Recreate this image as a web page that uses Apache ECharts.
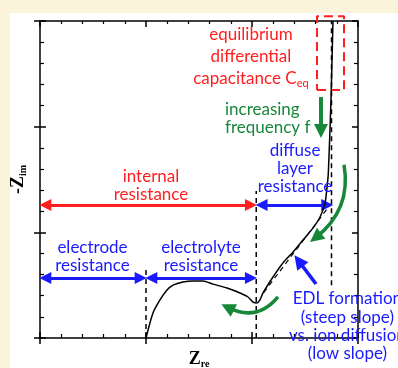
<!DOCTYPE html>
<html>
<head>
<meta charset="utf-8">
<script src="https://cdn.jsdelivr.net/npm/echarts@6/dist/echarts.min.js"></script>
<style>
  html, body { margin: 0; padding: 0; }
  #wrap { position: relative; width: 398px; height: 368px; background: #fdf4dc; overflow: hidden; }
  #panel { position: absolute; left: 10px; top: 13px; right: 0; bottom: 0; background: #ffffff; }
  #chart { position: absolute; left: 0; top: 0; width: 398px; height: 368px; }
</style>
</head>
<body>
<div id="wrap"><div id="panel"></div><div id="chart"></div></div>
<script>
// Nyquist plot of an EDL capacitor: real part vs. negative imaginary part (arbitrary units)
const zRe = [1.00, 1.066, 1.132, 1.198, 1.255, 1.349, 1.443, 1.538, 1.632, 1.764, 1.887, 1.962, 2.009, 2.047,
             2.075, 2.104, 2.198, 2.292, 2.387, 2.481, 2.575, 2.642, 2.689, 2.708, 2.72, 2.745, 2.764];
const zIm = [0.00, 0.237, 0.36, 0.454, 0.50, 0.53, 0.54, 0.54, 0.51, 0.473, 0.426, 0.388, 0.34, 0.331,
             0.36, 0.426, 0.577, 0.71, 0.814, 0.927, 1.04, 1.145, 1.277, 1.43, 1.56, 2.25, 3.00];

// characteristic resistances along the real axis
const rElectrode = 1.00;          // end of electrode resistance
const rInternal = 2.04;           // electrode + electrolyte resistance
const rDiffuse = 2.75;            // internal + diffuse layer resistance

// straight-line fit of the diffusion branch
const fitRe = [2.11, 2.73];
const fitIm = [0.43, 1.25];

// region of equilibrium differential capacitance
const ceqRe = [2.613, 2.868];
const ceqIm = [2.346, 3.046];

// axis ranges
const axisMax = 3;

// annotation texts
const capText = ['equilibrium', 'differential', 'capacitance C{sub|eq}'];
const freqText = ['increasing', 'frequency f'];
const diffuseText = ['diffuse', 'layer', 'resistance'];
const internalText = ['internal', 'resistance'];
const electrodeText = ['electrode', 'resistance'];
const electrolyteText = ['electrolyte', 'resistance'];
const edlText = ['EDL formation', '(steep slope)', 'vs. ion diffusion', '(low slope)'];

const RED = '#ff1f1f', BLUE = '#1a1aff', GREEN = '#17873a', BLACK = '#000';
const FONT = 'Lato, "Noto Sans", sans-serif';

const notes = [
  { t: capText, x: 1.99, y: 2.66, c: RED, lh: 22, align: 'center' },
  { t: freqText, x: 1.745, y: 2.08, c: GREEN, lh: 18, align: 'left' },
  { t: diffuseText, x: 2.406, y: 1.60, c: BLUE, lh: 18, align: 'center' },
  { t: internalText, x: 1.047, y: 1.44, c: RED, lh: 18, align: 'center' },
  { t: electrodeText, x: 0.495, y: 0.77, c: BLUE, lh: 18, align: 'center' },
  { t: electrolyteText, x: 1.519, y: 0.77, c: BLUE, lh: 18, align: 'center' },
  { t: edlText, x: 2.90, y: 0.11, c: BLUE, lh: 18.3, align: 'center' }
];

const chart = echarts.init(document.getElementById('chart'), null, { renderer: 'canvas' });

function axisDef(pos, inside, showLine, majorLen, minorLen) {
  return {
    type: 'value', position: pos, min: 0, max: axisMax, interval: 1,
    axisLine: { show: showLine, onZero: false, lineStyle: { color: BLACK, width: 1.5 } },
    axisTick: { show: true, inside: inside, length: majorLen, lineStyle: { color: BLACK, width: 1.5 } },
    minorTick: { show: minorLen > 0, splitNumber: 5, length: minorLen, lineStyle: { color: BLACK, width: 1.2 } },
    axisLabel: { show: false }, splitLine: { show: false }
  };
}

const nameStyle = {
  color: BLACK, fontFamily: '"Liberation Serif", serif', fontWeight: 'bold', fontSize: 18,
  rich: { s: { fontFamily: '"Liberation Serif", serif', fontWeight: 'bold', fontSize: 10, padding: [10, 0, 0, 0] } }
};

const xAxes = [
  Object.assign(axisDef('bottom', true, true, 6, 4), {
    name: 'Z{s|re}', nameLocation: 'middle', nameGap: 11, nameTextStyle: nameStyle
  }),
  axisDef('bottom', false, false, 6, 0),
  axisDef('top', true, true, 6, 3)
];
const yAxes = [
  Object.assign(axisDef('left', true, true, 6, 4), {
    name: '-Z{s|im}', nameLocation: 'middle', nameGap: 12, nameRotate: 90, nameTextStyle: nameStyle
  }),
  axisDef('left', false, false, 6, 0),
  axisDef('right', true, true, 6, 4)
];

function dashed(points, color, width, dash) {
  return {
    type: 'line', data: points, symbol: 'none', clip: false, silent: true, z: 3,
    lineStyle: { color: color, width: width, type: dash }
  };
}

function arrows(list, color, width, size, ends, curve) {
  return {
    type: 'lines', coordinateSystem: 'cartesian2d', xAxisIndex: 0, yAxisIndex: 0, silent: true, z: 4,
    symbol: ends, symbolSize: size,
    lineStyle: { color: color, width: width, opacity: 1, curveness: curve || 0 },
    data: list.map(c => ({ coords: c }))
  };
}

const headX = 0.05;   // half arrowhead length in data units along x

const option = {
  animation: false,
  grid: { left: 40, right: 40, top: 21, bottom: 30, containLabel: false, outerBoundsMode: 'none' },
  xAxis: xAxes,
  yAxis: yAxes,
  series: [
    {
      type: 'line', data: zRe.map((v, i) => [v, zIm[i]]), symbol: 'none', smooth: 0.25, clip: false, z: 5,
      lineStyle: { color: BLACK, width: 1.5 }
    },
    dashed([[rElectrode, 0], [rElectrode, 0.65]], BLACK, 1.5, [5, 4]),
    dashed([[rInternal, 0], [rInternal, 1.39]], BLACK, 1.5, [5, 4]),
    dashed([[rDiffuse, 0.5], [rDiffuse, axisMax]], BLACK, 1.5, [5, 4]),
    dashed([[fitRe[0], fitIm[0]], [fitRe[1], fitIm[1]]], BLACK, 1.2, [5, 4]),
    dashed([[ceqRe[0], ceqIm[0]], [ceqRe[1], ceqIm[0]], [ceqRe[1], ceqIm[1]], [ceqRe[0], ceqIm[1]], [ceqRe[0], ceqIm[0]]],
      RED, 2, [9, 5]),
    arrows([[[0 + headX, 1.258], [rInternal - headX, 1.258]]], RED, 3, [12, 12], ['triangle', 'triangle']),
    arrows([[[rInternal + headX, 1.258], [rDiffuse - headX + 0.01, 1.258]],
            [[0 + headX, 0.568], [rElectrode - headX, 0.568]],
            [[rElectrode + headX, 0.568], [rInternal - headX, 0.568]]], BLUE, 3, [12, 12], ['triangle', 'triangle']),
    arrows([[[2.604, 0.511], [2.44, 0.73]]], BLUE, 3.5, [14, 14], ['none', 'triangle']),
    arrows([[[2.651, 2.28], [2.651, 1.96]]], GREEN, 4, [13, 14], ['none', 'triangle']),
    arrows([[[2.868, 1.64], [2.60, 0.95]]], GREEN, 3.5, [13, 14], ['none', 'triangle'], 0.3),
    arrows([[[2.245, 0.39], [1.77, 0.29]]], GREEN, 3.5, [13, 14], ['none', 'triangle'], 0.4),
    {
      type: 'custom', clip: false, silent: true, z: 6,
      data: notes.map(n => [n.x, n.y]),
      encode: { x: 0, y: 1 },
      renderItem: function (params, api) {
        const n = notes[params.dataIndex];
        const p = api.coord([api.value(0), api.value(1)]);
        return {
          type: 'text', x: p[0], y: p[1],
          style: {
            text: n.t.join('\n'), fill: n.c, fontFamily: FONT, fontSize: 17, lineHeight: n.lh,
            align: n.align, verticalAlign: 'middle',
            rich: { sub: { fill: n.c, fontFamily: FONT, fontSize: 11, lineHeight: n.lh, padding: [9, 0, 0, 0] } }
          }
        };
      }
    }
  ]
};
chart.setOption(option);
</script>
</body>
</html>
